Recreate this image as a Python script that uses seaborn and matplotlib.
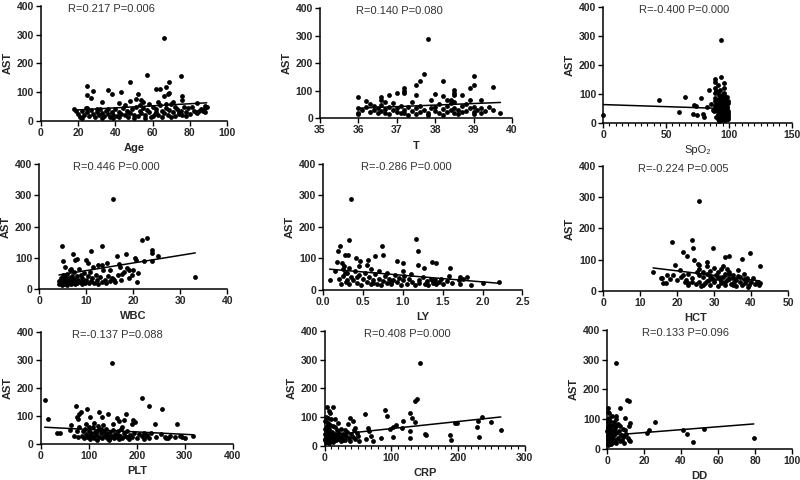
import numpy as np
import pandas as pd
import seaborn as sns
import matplotlib.pyplot as plt
import matplotlib.ticker as mticker

# --- data: (x, AST) pairs, one list per panel ---
age_pts = [
    (66, 288), (57, 160), (75, 155), (48, 137), (69, 137), (25, 122), (28, 103), (36, 106),
    (43, 100), (62, 112), (64, 112), (67, 117), (27, 78), (25, 90), (38, 92), (52, 92),
    (68, 92), (66, 85), (76, 85), (33, 67), (42, 64), (48, 70), (51, 75), (54, 73), (55, 65),
    (71, 67), (76, 73), (84, 61), (88, 52), (69, 96),
    (18, 40), (20, 25), (21, 15), (22, 35), (23, 20), (24, 45), (25, 30), (26, 18), (27, 38),
    (28, 25), (29, 15), (30, 32), (31, 20), (32, 42), (33, 28), (34, 18), (35, 36), (36, 25),
    (37, 15), (38, 30), (39, 22), (40, 40), (41, 18), (42, 30), (43, 25), (44, 45), (45, 20),
    (46, 35), (47, 15), (48, 28), (49, 40), (50, 22), (51, 50), (52, 18), (53, 35), (54, 27),
    (55, 45), (56, 20), (57, 38), (58, 30), (59, 15), (60, 50), (61, 25), (62, 40), (63, 20),
    (64, 55), (65, 35), (66, 28), (67, 45), (68, 22), (69, 38), (70, 60), (71, 30), (72, 18),
    (73, 42), (74, 25), (75, 35), (76, 20), (77, 50), (78, 30), (79, 45), (80, 25), (82, 35),
    (84, 28), (86, 40), (87, 33), (88, 45), (89, 48),
    (19, 35), (22, 12), (25, 45), (30, 40), (33, 12), (36, 40), (39, 10), (42, 15), (45, 55),
    (47, 30), (50, 12), (53, 55), (56, 12), (58, 60), (60, 18), (62, 30), (63, 65), (65, 15),
    (67, 60), (70, 15), (72, 48), (74, 30), (78, 18), (81, 50), (83, 30), (85, 35), (88, 30),
]

t_pts = [
    (37.8, 287), (37.7, 161), (37.6, 136), (37.5, 121), (38.2, 136), (39.0, 154), (39.0, 121),
    (38.9, 109), (39.5, 112), (37.2, 109), (37.2, 100), (37.2, 91), (37.0, 93), (36.8, 85),
    (36.6, 76), (36.0, 76), (36.2, 61), (36.6, 64), (37.5, 85), (38.0, 87), (38.2, 79),
    (38.5, 103), (38.5, 93), (38.5, 85), (38.7, 85), (38.9, 67), (39.2, 64), (38.4, 67),
    (37.9, 67),
    (36.0, 35), (36.0, 20), (36.1, 28), (36.2, 40), (36.3, 22), (36.4, 45), (36.4, 30),
    (36.5, 18), (36.5, 38), (36.6, 25), (36.6, 48), (36.7, 32), (36.7, 20), (36.8, 42),
    (36.8, 15), (36.9, 28), (37.0, 35), (37.0, 22), (37.1, 45), (37.2, 30), (37.2, 18),
    (37.3, 40), (37.4, 25), (37.5, 35), (37.5, 15), (37.6, 45), (37.7, 28), (37.8, 20),
    (37.8, 12), (38.0, 40), (38.0, 25), (38.1, 50), (38.1, 18), (38.2, 32), (38.3, 22),
    (38.3, 45), (38.4, 28), (38.4, 55), (38.5, 20), (38.5, 38), (38.5, 60), (38.6, 30),
    (38.7, 45), (38.8, 25), (38.8, 50), (38.9, 35), (39.0, 22), (39.0, 42), (39.1, 28),
    (39.2, 35), (39.3, 25), (39.5, 30), (39.7, 20),
    (36.0, 15), (36.3, 50), (36.9, 55), (37.1, 18), (37.3, 12), (37.6, 22), (37.9, 35),
    (38.2, 12), (38.6, 15), (38.7, 22), (39.0, 15), (39.2, 18), (39.4, 40), (38.3, 65),
    (37.4, 60), (36.7, 58),
]

spo2_pts = [
    (0, 27), (44, 78), (60, 39), (65, 88), (71, 31), (72.5, 63), (74, 57), (74.5, 27), (78, 85),
    (79, 32), (80, 21), (82.5, 55), (84, 114), (88, 40), (89, 57), (89, 152), (89, 141),
    (89, 120), (89, 103), (89, 86), (89, 74), (93.6, 159), (93.6, 286), (95.8, 137),
    (95.8, 120), (95.8, 103), (95.8, 91), (86, 65), (87, 45), (90, 110), (91, 130),
    (90, 45), (90, 20), (90, 65), (91, 30), (91, 55), (91, 80), (91, 12), (92, 40), (92, 25),
    (92, 70), (92, 95), (92, 15), (93, 35), (93, 50), (93, 60), (93, 18), (93, 85), (93, 28),
    (94, 22), (94, 45), (94, 75), (94, 10), (94, 58), (94, 38), (95, 30), (95, 15), (95, 65),
    (95, 100), (95, 48), (95, 20), (95, 85), (96, 12), (96, 40), (96, 55), (96, 25), (96, 70),
    (96, 95), (96, 35), (97, 18), (97, 45), (97, 60), (97, 28), (97, 80), (97, 10), (97, 50),
    (98, 22), (98, 38), (98, 65), (98, 15), (98, 90), (98, 30), (98, 55), (99, 20), (99, 40),
    (99, 12), (99, 70), (99, 35), (99, 28), (91, 105), (93, 112), (95, 95), (97, 88), (99, 75),
    (92, 8), (94, 33), (96, 42), (98, 52),
]

wbc_pts = [
    (15.7, 289), (21.8, 156), (22.9, 163), (4.8, 138), (13.3, 138), (11, 122), (7.1, 112),
    (24, 124), (24, 115), (25.3, 105), (16.5, 105), (18.4, 113), (8, 97), (7.6, 92), (10, 92),
    (10.3, 83), (5.1, 89), (14.4, 83), (13.3, 76), (20.3, 100), (20.5, 92), (22.4, 89),
    (24, 89), (33.2, 38), (20.8, 22), (19.7, 44), (19.2, 60), (18.6, 67), (17.2, 70),
    (17.6, 47), (16.2, 22), (15.8, 33),
    (4.2, 15), (4.3, 25), (4.5, 18), (4.6, 35), (4.8, 12), (5.0, 22), (5.0, 45), (5.2, 28),
    (5.3, 15), (5.5, 38), (5.6, 20), (5.8, 30), (5.9, 12), (6.0, 48), (6.1, 25), (6.2, 18),
    (6.4, 35), (6.5, 60), (6.6, 22), (6.8, 15), (6.9, 42), (7.0, 28), (7.2, 20), (7.3, 55),
    (7.5, 32), (7.6, 15), (7.8, 25), (8.0, 40), (8.1, 18), (8.3, 30), (8.5, 65), (8.6, 22),
    (8.8, 45), (9.0, 15), (9.2, 35), (9.4, 25), (9.6, 50), (9.8, 20), (10.0, 30), (10.3, 40),
    (10.5, 18), (10.8, 55), (11.0, 25), (11.3, 35), (11.6, 20), (12.0, 45), (12.3, 28),
    (12.6, 15), (13.0, 38), (13.3, 22), (13.6, 60), (14.0, 30), (14.3, 18), (14.7, 42),
    (15.0, 25), (15.5, 35), (16.0, 28), (16.8, 45), (17.5, 30), (18.0, 55), (19.0, 35),
    (20.0, 62), (21.0, 50), (5.5, 70), (6.8, 65), (11.5, 70), (12.5, 78), (15.0, 62), (17.0, 80),
]

ly_pts = [
    (0.35, 288), (0.32, 157), (1.16, 162), (1.19, 122), (0.74, 138), (0.21, 138), (0.19, 124),
    (0.27, 111), (0.31, 111), (0.75, 111), (0.65, 106), (0.41, 100), (0.46, 92), (0.92, 92),
    (1.0, 85), (0.56, 95), (1.19, 79), (1.26, 71), (1.36, 87), (1.41, 85), (1.59, 69),
    (0.17, 90), (0.23, 85), (0.26, 76), (0.08, 32), (2.21, 26), (1.86, 16), (2.0, 21),
    (1.72, 42), (1.8, 40),
    (0.15, 60), (0.2, 35), (0.22, 20), (0.25, 45), (0.28, 25), (0.3, 55), (0.32, 18),
    (0.35, 40), (0.38, 30), (0.4, 60), (0.42, 22), (0.45, 48), (0.48, 15), (0.5, 35),
    (0.52, 55), (0.55, 25), (0.58, 40), (0.6, 18), (0.62, 30), (0.65, 50), (0.68, 20),
    (0.7, 35), (0.72, 15), (0.75, 28), (0.78, 45), (0.8, 22), (0.82, 35), (0.85, 18),
    (0.88, 30), (0.9, 48), (0.92, 25), (0.95, 38), (0.98, 15), (1.0, 30), (1.02, 45),
    (1.05, 20), (1.08, 35), (1.1, 50), (1.12, 25), (1.15, 15), (1.2, 30), (1.25, 40),
    (1.28, 20), (1.3, 28), (1.32, 15), (1.35, 35), (1.38, 22), (1.4, 30), (1.42, 18),
    (1.45, 25), (1.48, 35), (1.5, 20), (1.55, 28), (1.58, 45), (1.62, 22), (1.7, 30),
    (1.72, 18), (1.75, 35), (0.25, 65), (0.33, 70), (0.45, 75), (0.6, 65), (0.55, 80),
    (0.7, 60), (0.8, 55), (1.0, 60), (0.27, 55), (0.63, 22), (0.85, 25), (1.2, 22),
    (1.36, 30), (0.3, 30), (0.42, 42),
]

hct_pts = [
    (26, 288), (24.1, 162), (18.6, 157), (24.3, 138), (29.6, 138), (21.5, 124), (22.8, 111),
    (39.7, 122), (34.1, 113), (32.9, 107), (37.6, 103), (24.7, 100), (25.7, 87), (26, 82),
    (28.2, 93), (42.4, 79), (19.3, 84), (13.5, 61), (15.7, 42), (17.2, 52), (16.3, 26),
    (20.8, 66), (21.7, 50), (22.4, 36), (23, 18), (39.2, 13), (42.2, 18), (42.4, 26),
    (32.3, 79), (33.4, 71), (36.5, 66),
    (16, 40), (17, 25), (18, 38), (19, 50), (20, 35), (21, 45), (22, 28), (23, 55), (24, 40),
    (25, 22), (25.5, 60), (26, 30), (26.5, 15), (27, 45), (27.5, 25), (28, 55), (28.5, 35),
    (29, 20), (29.5, 42), (30, 28), (30.5, 50), (31, 15), (31.5, 38), (32, 25), (32.5, 45),
    (33, 18), (33.5, 35), (34, 55), (34.5, 22), (35, 40), (35.5, 28), (36, 15), (36.5, 48),
    (37, 30), (37.5, 20), (38, 38), (38.5, 25), (39, 35), (39.5, 18), (40, 30), (40.5, 40),
    (41, 22), (41.5, 28), (26, 70), (27, 60), (28, 80), (29, 65), (30, 72), (31, 60), (32, 70),
    (33, 55), (34, 62), (35, 50), (30, 35), (31, 40), (32, 32), (33, 28), (34, 38), (35, 20),
    (28, 32), (29, 48), (27, 18), (36, 35), (37, 45), (38, 55), (39, 42), (26, 52), (24, 30),
    (23, 25),
]

plt_pts = [
    (148, 290), (8, 157), (15, 91), (210, 163), (226, 137), (252, 124), (74, 137), (96, 124),
    (84, 115), (80, 106), (122, 114), (139, 106), (178, 106), (103, 98), (75, 98), (78, 91),
    (128, 95), (158, 92), (162, 84), (174, 86), (193, 86), (197, 80), (63, 67), (33, 41),
    (39, 39), (238, 71), (283, 71), (318, 30), (294, 25), (259, 25), (266, 21), (214, 41),
    (221, 33),
    (85, 30), (88, 45), (90, 20), (92, 55), (95, 35), (97, 25), (100, 48), (102, 18), (104, 38),
    (106, 28), (108, 60), (110, 22), (112, 42), (115, 32), (118, 15), (120, 50), (122, 25),
    (125, 38), (128, 20), (130, 45), (132, 30), (135, 55), (138, 22), (140, 35), (142, 15),
    (145, 42), (148, 28), (150, 50), (152, 20), (155, 35), (158, 25), (160, 45), (163, 18),
    (165, 30), (168, 55), (170, 22), (173, 38), (176, 28), (180, 45), (183, 18), (186, 32),
    (190, 25), (195, 40), (200, 20), (205, 35), (210, 28), (215, 18), (220, 30), (225, 22),
    (230, 40), (240, 25), (250, 35), (260, 20), (270, 30), (280, 25), (290, 28), (300, 22),
    (75, 45), (78, 25), (80, 60), (95, 70), (100, 60), (110, 75), (120, 65), (130, 68),
    (150, 70), (170, 62), (190, 72), (60, 50), (70, 30), (100, 30), (140, 28), (160, 32),
    (180, 25), (115, 40), (125, 55), (135, 40), (145, 20),
]

crp_pts = [
    (143, 289), (136, 157), (139, 162), (3.5, 136), (12.5, 136), (6.5, 121), (7.5, 113),
    (90, 123), (93.5, 104), (127.5, 113), (131.5, 96), (135, 84), (60, 111), (5, 96), (10, 92),
    (15, 92), (37.5, 96), (42.5, 88), (117.5, 88), (106.5, 73), (102.5, 67), (97.5, 60),
    (116.5, 61), (128.5, 52), (150, 40), (151.5, 38), (187.5, 38), (190, 21), (195, 79),
    (198.5, 81), (228.5, 67), (230, 87), (236.5, 102), (249, 83), (231.5, 32), (264, 55),
    (128.5, 27), (102.5, 30), (85, 27), (70, 35), (72.5, 17), (65, 61), (66.5, 53), (62.5, 23),
    (51.5, 18),
    (0.5, 25), (1, 40), (1.5, 15), (2, 55), (2.5, 30), (3, 20), (3, 70), (4, 45), (4.5, 28),
    (5, 15), (5.5, 35), (6, 60), (7, 22), (8, 40), (9, 18), (10, 30), (11, 50), (12, 25),
    (13, 15), (14, 38), (15, 28), (16, 65), (17, 20), (18, 35), (20, 25), (22, 45), (24, 18),
    (26, 30), (28, 40), (30, 22), (32, 35), (34, 50), (36, 28), (38, 18), (40, 40), (42, 30),
    (44, 55), (46, 25), (48, 45), (50, 35), (0.5, 85), (2, 100), (1, 60), (3, 50), (5, 80),
    (8, 72), (12, 68), (20, 80), (25, 60), (30, 55), (35, 75), (45, 62), (2, 12), (6, 10),
    (4, 32), (7, 48), (15, 42), (19, 55), (23, 32), (27, 22), (1, 22), (9, 26),
]

dd_pts = [
    (4.9, 288), (10.5, 163), (11.9, 160), (6.7, 137), (0.5, 137), (5, 110), (9.5, 104),
    (12.6, 87), (11.7, 76), (26, 90), (22.5, 63), (21.6, 54), (41, 63), (43.2, 51), (46.5, 23),
    (52.3, 65), (79.3, 35), (12.3, 26), (9, 42),
    (0.2, 20), (0.3, 45), (0.4, 70), (0.5, 100), (0.6, 30), (0.8, 55), (0.9, 15), (1.0, 85),
    (1.1, 40), (1.2, 120), (1.3, 25), (1.4, 65), (1.5, 35), (1.6, 95), (1.8, 18), (2.0, 50),
    (2.2, 75), (2.4, 28), (2.6, 110), (2.8, 40), (3.0, 60), (3.2, 22), (3.5, 90), (3.8, 45),
    (4.0, 30), (4.3, 70), (4.6, 18), (5.0, 55), (5.5, 80), (6.0, 35), (6.5, 60), (7.0, 25),
    (7.5, 45), (8.0, 30), (8.5, 65), (9.0, 20), (10.0, 50), (11.0, 35), (12.0, 28), (0.1, 60),
    (0.2, 90), (0.3, 125), (0.5, 12), (0.7, 35), (1.0, 25), (1.5, 55), (2.0, 15), (2.5, 38),
    (3.0, 80), (0.4, 42), (0.6, 75), (0.9, 105), (1.7, 30), (2.3, 62), (4.5, 100), (5.8, 85),
    (3.3, 32), (6.8, 78), (8.8, 40), (9.5, 62),
]

x_names = ["Age", "T", "SpO₂", "WBC", "LY", "HCT", "PLT", "CRP", "DD"]
point_sets = [age_pts, t_pts, spo2_pts, wbc_pts, ly_pts, hct_pts, plt_pts, crp_pts, dd_pts]
stat_labels = ["R=0.217 P=0.006", "R=0.140 P=0.080", "R=-0.400 P=0.000",
               "R=0.446 P=0.000", "R=-0.286 P=0.000", "R=-0.224 P=0.005",
               "R=-0.137 P=0.088", "R=0.408 P=0.000", "R=0.133 P=0.096"]
# fitted lines as printed in the reference (intercept, slope)
fit_intercepts = [31.2, -167.4, 63.0, 34.5, 67.4, 93.0, 60.7, 35.5, 44.7]
fit_slopes = [0.357, 5.65, -0.142, 2.44, -21.0, -1.44, -0.0872, 0.2465, 0.49]
x_ticks = [[0, 20, 40, 60, 80, 100], [35, 36, 37, 38, 39, 40], [0, 50, 100, 150],
           [0, 10, 20, 30, 40], [0.0, 0.5, 1.0, 1.5, 2.0, 2.5], [0, 10, 20, 30, 40, 50],
           [0, 100, 200, 300, 400], [0, 100, 200, 300], [0, 20, 40, 60, 80, 100]]
x_minor = {"SpO₂": 5, "CRP": 10}
y_ticks = [0, 100, 200, 300, 400]

# axes boxes in figure fractions (left, bottom, width, height)
positions = [
    [0.051, 0.748, 0.233, 0.240], [0.400, 0.754, 0.240, 0.229], [0.754, 0.744, 0.236, 0.242],
    [0.049, 0.398, 0.235, 0.260], [0.404, 0.396, 0.249, 0.263], [0.754, 0.394, 0.231, 0.260],
    [0.051, 0.075, 0.240, 0.233], [0.406, 0.071, 0.250, 0.240], [0.759, 0.065, 0.231, 0.248],
]
stat_x = [0.145, 0.19, 0.19, 0.18, 0.19, 0.19, 0.16, 0.195, 0.19]

sns.set_style("ticks")
plt.rcParams['font.family'] = ['Liberation Sans', 'DejaVu Sans']

fig = plt.figure(figsize=(8, 4.8), dpi=100)

for i, name in enumerate(x_names):
    df = pd.DataFrame(point_sets[i], columns=[name, "AST"])
    ax = fig.add_axes(positions[i])
    sns.regplot(data=df, x=name, y="AST", ax=ax, fit_reg=False,
                scatter_kws={"s": 12, "color": "black", "alpha": 1, "linewidths": 0,
                             "clip_on": False})
    # fitted line across the data range
    xr = np.array([df[name].min(), df[name].max()])
    line_df = pd.DataFrame({name: xr, "AST": fit_intercepts[i] + fit_slopes[i] * xr})
    sns.lineplot(data=line_df, x=name, y="AST", ax=ax, color="black", lw=1.1)
    ax.set_xlim(x_ticks[i][0], x_ticks[i][-1])
    ax.set_ylim(0, 400)
    ax.set_xticks(x_ticks[i])
    ax.set_yticks(y_ticks)
    if name == "LY":
        ax.xaxis.set_major_formatter(mticker.FormatStrFormatter('%.1f'))
    if name in x_minor:
        ax.xaxis.set_minor_locator(mticker.MultipleLocator(x_minor[name]))
        ax.tick_params(axis='x', which='minor', length=2, width=0.8, color='black')
    sns.despine(ax=ax)
    for sp in ("left", "bottom"):
        ax.spines[sp].set_color("black")
        ax.spines[sp].set_linewidth(1.1)
    ax.tick_params(axis='both', which='major', length=3.5, width=1.0, color='black',
                   labelsize=7.5, pad=1.5)
    for lbl in ax.get_xticklabels() + ax.get_yticklabels():
        lbl.set_fontweight("bold")
    ax.set_xlabel(name, fontsize=8, fontweight="normal" if name == "SpO₂" else "bold",
                  labelpad=4)
    ax.set_ylabel("AST", fontsize=8, fontweight="bold", labelpad=3)
    ax.text(stat_x[i], 0.975, stat_labels[i], transform=ax.transAxes, ha="left",
            va="center", fontsize=8, color="#333333")

fig.savefig("out.png", dpi=100)
